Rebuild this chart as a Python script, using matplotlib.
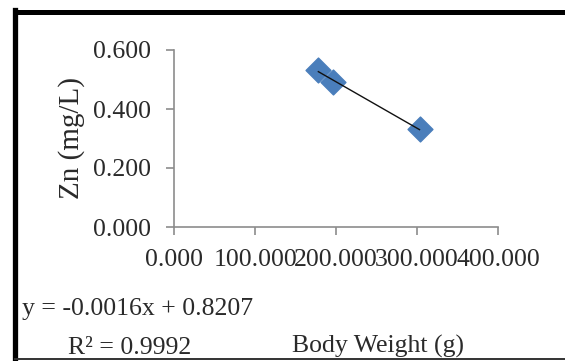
import numpy as np
import matplotlib.pyplot as plt
from matplotlib.lines import Line2D

# data
body_weight = [178, 196, 303]
zn = [0.532, 0.492, 0.331]
x_ticks = [0, 100, 200, 300, 400]
y_ticks = [0.0, 0.2, 0.4, 0.6]

plt.rcParams['font.family'] = ['Liberation Serif', 'DejaVu Serif']
W, H = 565, 361

fig = plt.figure(figsize=(W/100, H/100), dpi=100)
ax = fig.add_axes([174.3/W, 1 - 227/H, 323.7/W, 177/H])

ax.scatter(body_weight, zn, marker='D', s=160, color='#4a7ebb', zorder=2)
m, b = np.polyfit(body_weight, zn, 1)
xs = np.array([min(body_weight), max(body_weight)])
ax.plot(xs, m * xs + b, color='#111111', lw=1, zorder=3)

ax.set_xlim(0, 400)
ax.set_ylim(0, 0.6)
ax.set_xticks(x_ticks)
ax.set_yticks(y_ticks)
ax.set_xticklabels(["%.3f" % v for v in x_ticks], fontsize=18.5)
ax.set_yticklabels(["%.3f" % v for v in y_ticks], fontsize=18.5)
for s in ['top', 'right']:
    ax.spines[s].set_visible(False)
for s in ['left', 'bottom']:
    ax.spines[s].set_color('#8c8c8c')
    ax.spines[s].set_linewidth(1.2)
ax.tick_params(colors='#8c8c8c', labelcolor='#2a2a2a', length=6, width=1.2, direction='out')
ax.tick_params(axis='x', pad=10)
ax.tick_params(axis='y', pad=11)

fig.text(72/W, 1 - 138/H, "Zn (mg/L)", fontsize=21, rotation=90,
         ha='center', va='center', color='#2a2a2a')

fig.text(22/W, 1 - 315/H, "y = -0.0016x + 0.8207", fontsize=18.5, va='baseline', color='#2a2a2a')
fig.text(68/W, 1 - 354/H, "R² = 0.9992", fontsize=18.5, va='baseline', color='#2a2a2a')
fig.text(292/W, 1 - 353/H, "Body Weight (g)", fontsize=18.5, va='baseline', color='#2a2a2a')

# outer frame (left and top thick, bottom thin)
fig.add_artist(Line2D([14.5/W, 14.5/W], [1 - 9.5/H, 1 - 359/H], transform=fig.transFigure,
                      color='black', lw=3.8, solid_capstyle='projecting'))
fig.add_artist(Line2D([14.5/W, 1.0], [1 - 11.7/H, 1 - 11.7/H], transform=fig.transFigure,
                      color='black', lw=3.6, solid_capstyle='projecting'))
fig.add_artist(Line2D([14.5/W, 1.0], [1 - 359.2/H, 1 - 359.2/H], transform=fig.transFigure,
                      color='#333333', lw=1.4))

fig.savefig("out.png", dpi=100)
